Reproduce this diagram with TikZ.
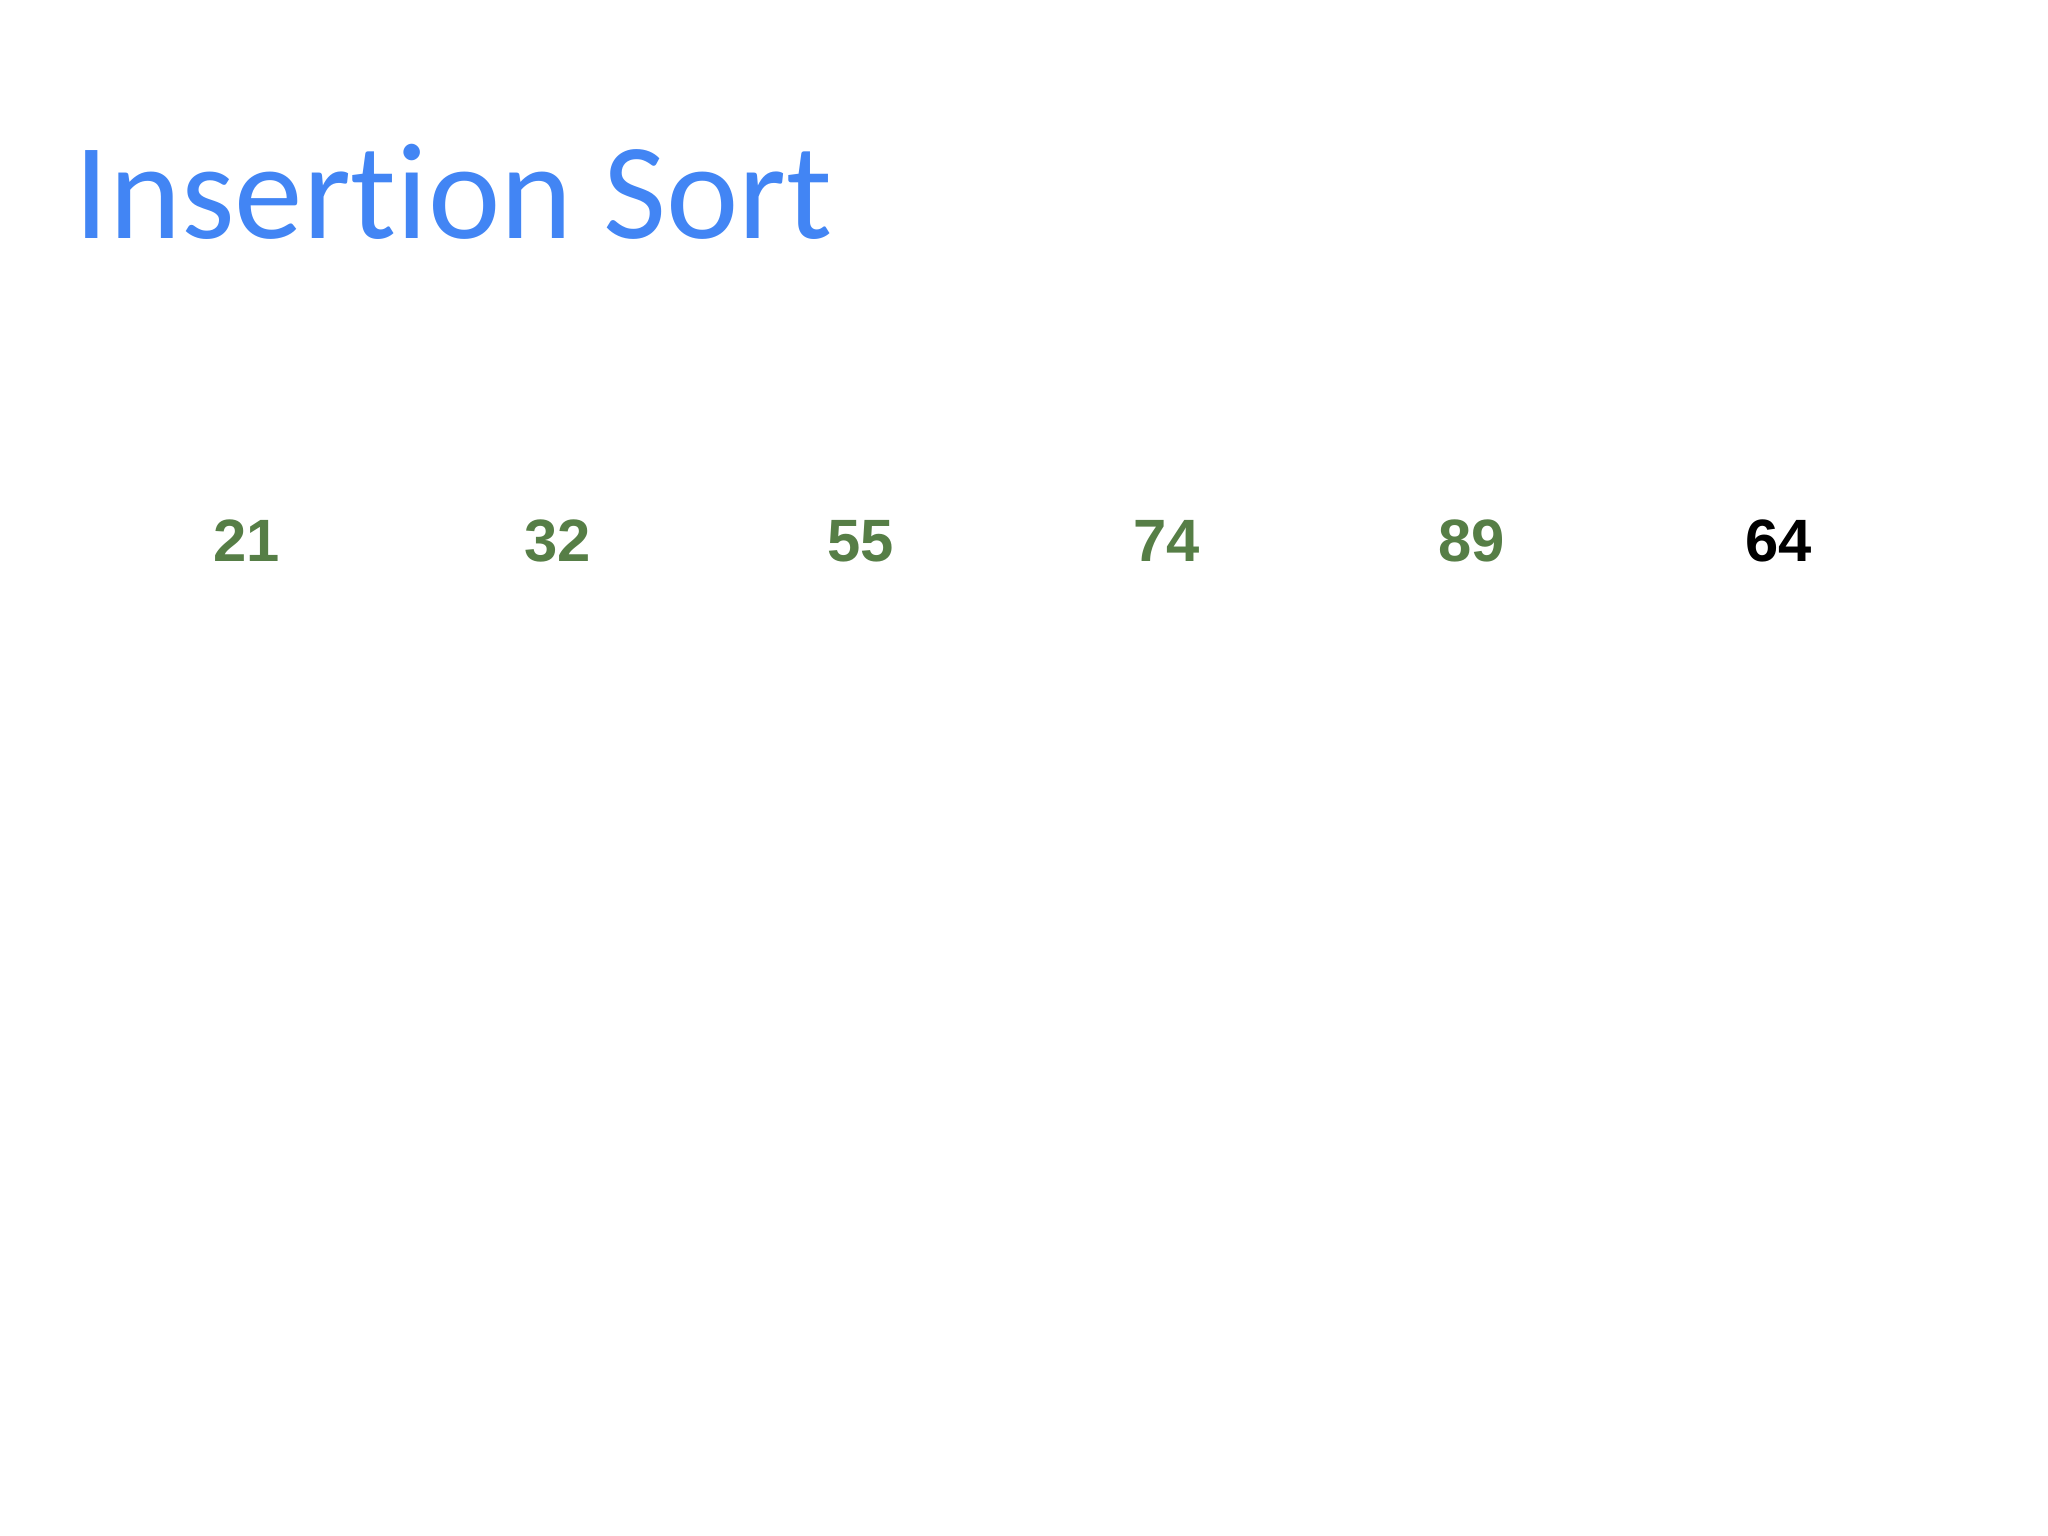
\documentclass[tikz,border=0pt]{standalone}
\usepackage{fontspec}
\usepackage{xcolor}
\usepackage{tikz}
\newfontfamily\titlefont[Ligatures=NoCommon]{Carlito}
\newfontfamily\numfont{Liberation Sans}
\definecolor{slideblue}{RGB}{66,133,244}
\definecolor{sortedgreen}{RGB}{86,126,70}

\begin{document}
\begin{tikzpicture}[
			     title/.style={font=\titlefont\fontsize{39}{47}\selectfont, text=slideblue, inner sep=0pt, anchor=base west},
			     num/.style={font=\numfont\bfseries\fontsize{17}{20}\selectfont, inner sep=0pt, anchor=base},
			     sorted/.style={num, text=sortedgreen}
			     ]
\useasboundingbox (0,0) rectangle (20.48,15.36);
\node[title] (title) at (0.74,12.97) {Insertion Sort};
% sorted part, then the key still to insert
\foreach \v/\x [count=\i] in {21/2.47,32/5.58,55/8.61,74/11.67,89/14.72}
  \node[sorted] (n\i) at (\x,9.74) {\v};
\node[num] (n6) at (17.79,9.74) {64};
\end{tikzpicture}
\end{document}
